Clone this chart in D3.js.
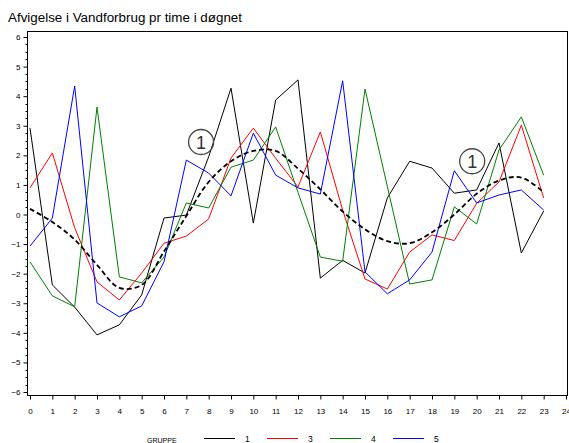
<!DOCTYPE html>
<html>
<head>
<meta charset="utf-8">
<script src="https://cdn.jsdelivr.net/npm/d3@7"></script>
<style>
  body { margin: 0; background: #fff; }
  svg { display: block; font-family: "Liberation Sans", Arial, sans-serif; }
</style>
</head>
<body>
<svg id="chart" width="569" height="443"></svg>
<script>
// hours 0..23
let hours = d3.range(0, 24);
let xTicks = d3.range(0, 25);
let yTicks = d3.range(-6, 7);

// gruppe values
let grp1 = [2.92, -2.38, -3.13, -4.07, -3.73, -2.72, -0.12, -0.02, 1.95, 4.27, -0.29, 3.87,
            4.55, -2.15, -1.55, -1.98, 0.56, 1.8, 1.57, 0.72, 0.83, 2.42, -1.3, 0.12];
let grp3 = [0.9, 2.08, -0.45, -2.28, -2.89, -1.98, -0.97, -0.73, -0.15, 1.91, 2.92, 1.9,
            0.93, 2.79, 0.15, -2.18, -2.52, -1.27, -0.69, -0.88, 0.38, 1.1, 3.02, 0.56];
let grp4 = [-1.6, -2.75, -3.12, 3.63, -2.11, -2.31, -1.44, 0.39, 0.22, 1.6, 1.84, 2.96,
            0.75, -1.44, -1.58, 4.24, 0.95, -2.35, -2.21, 0.26, -0.32, 2.18, 3.3, 1.33];
let grp5 = [-1.07, -0.12, 4.34, -2.99, -3.46, -3.09, -1.6, 1.84, 1.4, 0.63, 2.75, 1.33,
            0.9, 0.69, 4.52, -1.94, -2.68, -2.21, -1.27, 1.48, 0.39, 0.66, 0.83, 0.15];
// fitted mean curve (dashed)
let fitted = [0.19, -0.25, -0.85, -1.7, -2.48, -2.38, -1.25, -0.05, 1.1, 1.8, 2.15, 2.15,
              1.55, 0.85, 0.1, -0.5, -0.9, -0.97, -0.6, 0.0, 0.7, 1.15, 1.25, 0.75];

let groupNames = ["1", "3", "4", "5"];
let groupColors = ["#000000", "#ff0000", "#008000", "#0000ff"];
let groups = [grp1, grp3, grp4, grp5];

// circled labels: [hour, value]
let marks = [[7.66, 2.45], [19.8, 1.8]];

let svg = d3.select("#chart");

let x = d3.scaleLinear().domain([0, 24]).range([30, 566]);
let y = d3.scaleLinear().domain([-6, 6]).range([392, 37]);

// title
svg.append("text")
  .attr("x", 8)
  .attr("y", 22)
  .attr("font-size", "12.5px")
  .attr("textLength", 234)
  .attr("lengthAdjust", "spacingAndGlyphs")
  .attr("fill", "#000")
  .text("Afvigelse i Vandforbrug pr time i døgnet");

// frame
svg.append("rect")
  .attr("x", 27.5).attr("y", 31.5)
  .attr("width", 540).attr("height", 364)
  .attr("fill", "none")
  .attr("stroke", "#000")
  .attr("stroke-width", 1);

// y axis
let yAxis = d3.axisLeft(y).tickValues(yTicks).tickSize(4).tickPadding(3);
let gy = svg.append("g").attr("transform", "translate(27.5,0)").call(yAxis);
gy.select(".domain").remove();
gy.selectAll("text").attr("font-size", "8px").attr("font-family", "Liberation Sans, Arial, sans-serif");

let yMinor = d3.range(-6, 6, 0.25).filter(function(d) { return d % 1 !== 0; });
svg.append("g").selectAll("line")
  .data(yMinor)
  .enter()
  .append("line")
  .attr("x1", 25.5).attr("x2", 27.5)
  .attr("y1", function(d) { return Math.round(y(d)) + 0.5; })
  .attr("y2", function(d) { return Math.round(y(d)) + 0.5; })
  .attr("stroke", "#000");

// x axis
let xAxis = d3.axisBottom(x).tickValues(xTicks).tickSize(4).tickPadding(9);
let gx = svg.append("g").attr("transform", "translate(0,395.5)").call(xAxis);
gx.select(".domain").remove();
gx.selectAll("text").attr("font-size", "8px").attr("font-family", "Liberation Sans, Arial, sans-serif");

// clip to frame
svg.append("clipPath").attr("id", "plot")
  .append("rect").attr("x", 28).attr("y", 32).attr("width", 539).attr("height", 363);

let plot = svg.append("g").attr("clip-path", "url(#plot)");

let line = d3.line()
  .x(function(d, i) { return x(hours[i]); })
  .y(function(d) { return y(d); });

plot.selectAll("path.grp")
  .data(groups)
  .enter()
  .append("path")
  .attr("class", "grp")
  .attr("d", line)
  .attr("fill", "none")
  .attr("stroke", function(d, i) { return groupColors[i]; })
  .attr("stroke-width", 1);

let smooth = d3.line()
  .x(function(d, i) { return x(hours[i]); })
  .y(function(d) { return y(d); })
  .curve(d3.curveCatmullRom);

plot.append("path")
  .attr("d", smooth(fitted))
  .attr("fill", "none")
  .attr("stroke", "#000")
  .attr("stroke-width", 1.8)
  .attr("stroke-dasharray", "5,3");

// circled "1" labels
let mk = svg.append("g").selectAll("g")
  .data(marks)
  .enter()
  .append("g")
  .attr("transform", function(d) { return "translate(" + x(d[0]) + "," + y(d[1]) + ")"; });
mk.append("circle")
  .attr("r", 12.5)
  .attr("fill", "none")
  .attr("stroke", "#444")
  .attr("stroke-width", 1.3);
mk.append("text")
  .attr("text-anchor", "middle")
  .attr("y", 6.5)
  .attr("font-size", "18px")
  .attr("fill", "#333")
  .text("1");

// legend
svg.append("text")
  .attr("x", 147)
  .attr("y", 443)
  .attr("font-size", "7px")
  .attr("fill", "#000")
  .text("GRUPPE");

let legX = [204, 267, 330, 393];
let leg = svg.append("g").selectAll("g")
  .data(groupNames)
  .enter()
  .append("g")
  .attr("transform", function(d, i) { return "translate(" + legX[i] + ",438.5)"; });
leg.append("line")
  .attr("x1", 0).attr("x2", 31)
  .attr("stroke", function(d, i) { return groupColors[i]; })
  .attr("stroke-width", 1);
leg.append("text")
  .attr("x", 41)
  .attr("y", 3)
  .attr("font-size", "8.5px")
  .text(function(d) { return d; });
</script>
</body>
</html>
